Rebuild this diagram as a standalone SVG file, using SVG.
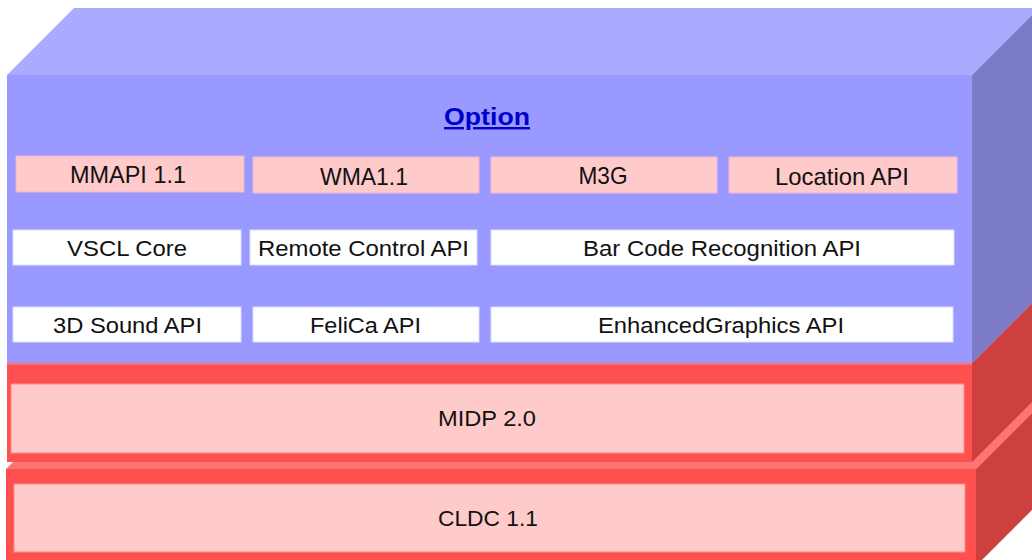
<svg xmlns="http://www.w3.org/2000/svg" width="1032" height="560" viewBox="0 0 1032 560">
<style>
text{font-family:"Liberation Sans",Arial,sans-serif;fill:#111;text-anchor:middle}
.r1{font-size:24px}
.r2{font-size:21.5px}
.opt{fill:#9999ff}
.optTop{fill:#aaaaff}
.optSide{fill:#7b7bca}
.red{fill:#ff5050}
.redTop{fill:#ff7373}
.redSide{fill:#cc4040}
.inner{fill:#ffcaca;stroke:#ff8a8a;stroke-width:1}
.pk{fill:#ffcaca;stroke:#f4b4d4;stroke-width:1}
.wh{fill:#ffffff;stroke:#dcdcff;stroke-width:1}
</style>
<rect width="1032" height="560" fill="#ffffff"/>
<g id="cldc">
<polygon class="redTop" points="6,469 73,402 1043,402 976,469"/>
<polygon class="redSide" points="976,469 1043,402 1043,499 976,566"/>
<rect class="red" x="6" y="469" width="970" height="97"/>
<rect class="inner" x="14" y="484" width="951" height="68"/>
<text class="r2" x="488" y="526" textLength="100" lengthAdjust="spacingAndGlyphs">CLDC 1.1</text>
</g>
<g id="midp">
<polygon class="redTop" points="7,363 74,296 1039,296 972,363"/>
<polygon class="redSide" points="972,363 1039,296 1039,395 972,462"/>
<rect class="red" x="7" y="363" width="965" height="99"/>
<rect fill="#ff7070" x="7" y="363" width="965" height="2"/>
<rect class="inner" x="11" y="384" width="953" height="69"/>
<text class="r2" x="487" y="426" textLength="98" lengthAdjust="spacingAndGlyphs">MIDP 2.0</text>
</g>
<g id="option">
<polygon class="optTop" points="7,75 74,8 1039,8 972,75"/>
<polygon class="optSide" points="972,75 1039,8 1039,296 972,363"/>
<rect class="opt" x="7" y="75" width="965" height="288"/>
<text x="487" y="125" font-size="24" font-weight="bold" fill="#0000cc" style="fill:#0000cc" text-decoration="underline" textLength="86" lengthAdjust="spacingAndGlyphs">Option</text>
</g>
<g id="mmapi"><rect class="pk" x="16" y="156" width="228" height="36"/><text class="r1" x="128" y="183" textLength="116" lengthAdjust="spacingAndGlyphs">MMAPI 1.1</text></g>
<g id="wma"><rect class="pk" x="253" y="157" width="226" height="36"/><text class="r1" x="364" y="185" textLength="88" lengthAdjust="spacingAndGlyphs">WMA1.1</text></g>
<g id="m3g"><rect class="pk" x="491" y="157" width="226" height="36"/><text class="r1" x="603" y="184" textLength="49" lengthAdjust="spacingAndGlyphs">M3G</text></g>
<g id="location"><rect class="pk" x="729" y="157" width="228" height="36"/><text class="r1" x="842" y="185" textLength="134" lengthAdjust="spacingAndGlyphs">Location API</text></g>
<g id="vscl"><rect class="wh" x="13" y="230" width="228" height="35"/><text class="r2" x="127" y="256" textLength="120" lengthAdjust="spacingAndGlyphs">VSCL Core</text></g>
<g id="remote"><rect class="wh" x="250" y="230" width="227" height="35"/><text class="r2" x="363.5" y="256" textLength="211" lengthAdjust="spacingAndGlyphs">Remote Control API</text></g>
<g id="barcode"><rect class="wh" x="491" y="230" width="463" height="35"/><text class="r2" x="722" y="256" textLength="278" lengthAdjust="spacingAndGlyphs">Bar Code Recognition API</text></g>
<g id="sound"><rect class="wh" x="13" y="307" width="228" height="35"/><text class="r2" x="127.5" y="333" textLength="149" lengthAdjust="spacingAndGlyphs">3D Sound API</text></g>
<g id="felica"><rect class="wh" x="253" y="307" width="226" height="35"/><text class="r2" x="365.5" y="333" textLength="111" lengthAdjust="spacingAndGlyphs">FeliCa API</text></g>
<g id="enhanced"><rect class="wh" x="491" y="307" width="462" height="35"/><text class="r2" x="721" y="333" textLength="246" lengthAdjust="spacingAndGlyphs">EnhancedGraphics API</text></g>
<g id="connectors"/>
</svg>
